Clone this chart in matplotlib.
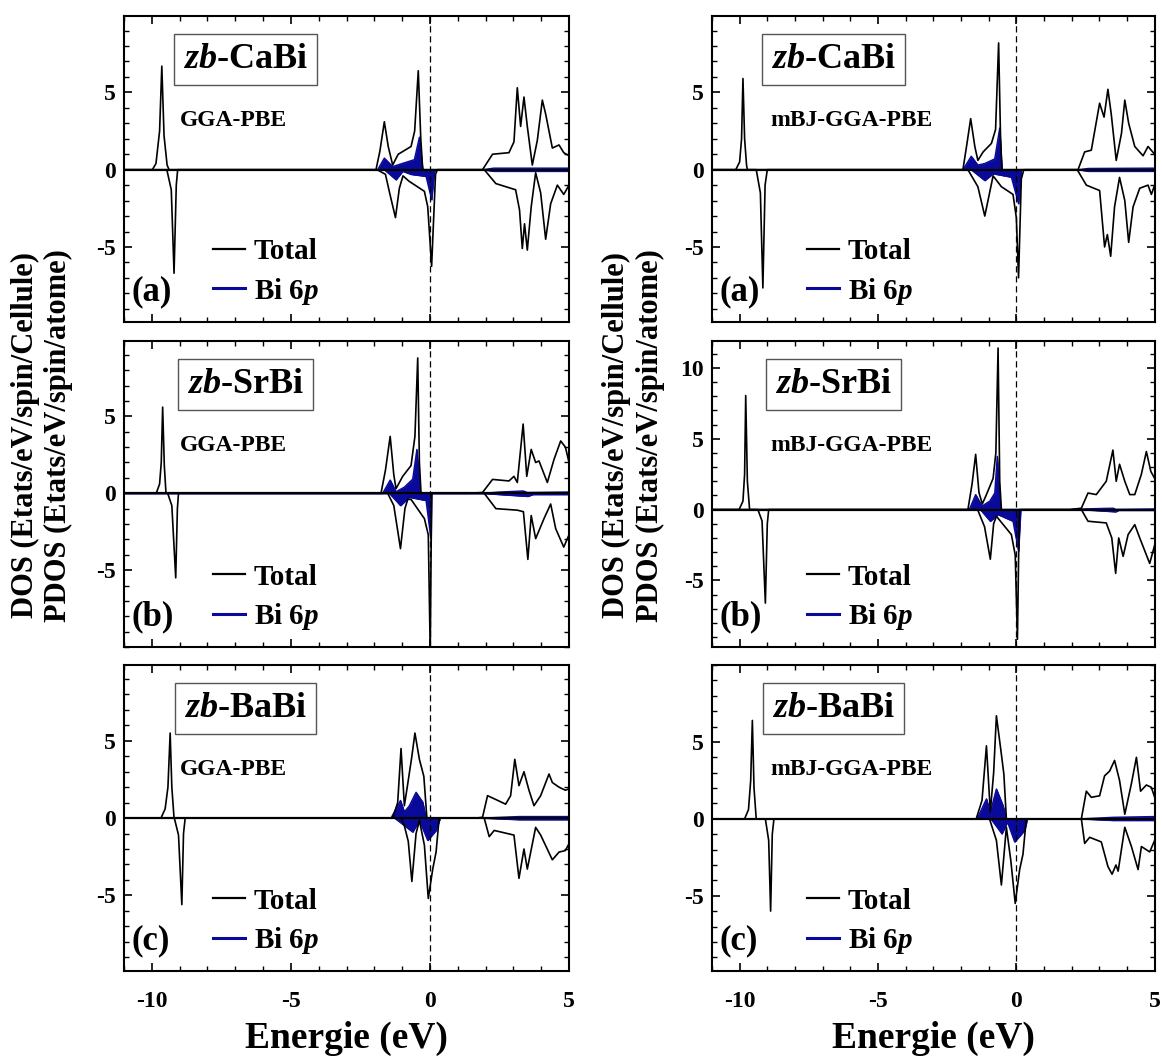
import numpy as np
import matplotlib
matplotlib.use('Agg')
import matplotlib.pyplot as plt
from matplotlib.lines import Line2D
from matplotlib.ticker import MultipleLocator

plt.rcParams['font.family'] = 'Liberation Serif'
plt.rcParams['font.weight'] = 'bold'
plt.rcParams['axes.labelweight'] = 'bold'
plt.rcParams['mathtext.fontset'] = 'custom'
plt.rcParams['mathtext.rm'] = 'Liberation Serif:bold'
plt.rcParams['mathtext.it'] = 'Liberation Serif:italic:bold'
plt.rcParams['axes.unicode_minus'] = False
plt.rcParams['axes.linewidth'] = 1.5

# --- données (E en eV, DOS) ---
COMPOUNDS = ['CaBi', 'SrBi', 'BaBi']
METHODS = ['GGA-PBE', 'mBJ-GGA-PBE']
TAGS = ['(a)', '(b)', '(c)']
XTICKS = [-10, -5, 0, 5]

# zb-CaBi GGA-PBE
CA_GGA_TOT_UP = [(-11, 0), (-9.98, 0), (-9.85, 0.4), (-9.72, 2.5), (-9.64, 6.7), (-9.56, 2.2), (-9.45, 0.3), (-9.38, 0),
                 (-1.94, 0), (-1.8, 1.2), (-1.64, 3.1), (-1.5, 1.5), (-1.34, 0.3), (-1.2, 0.8), (-1.14, 1.0), (-0.68, 1.5),
                 (-0.55, 2.5), (-0.42, 6.4), (-0.33, 2.0), (-0.26, 0),
                 (1.89, 0), (2.25, 1.0), (2.84, 1.1), (3.02, 1.8), (3.14, 5.3), (3.26, 2.8), (3.38, 4.7), (3.5, 2.8),
                 (3.68, 0.3), (3.86, 1.9), (4.04, 4.5), (4.16, 3.6), (4.4, 1.4), (4.64, 1.6), (4.81, 1.1), (5.0, 0.9)]
CA_GGA_TOT_DN = [(-11, 0), (-9.46, 0), (-9.3, -1.3), (-9.2, -6.7), (-9.12, -1.0), (-9.07, 0),
                 (-1.9, 0), (-1.6, -0.3), (-1.45, -1.5), (-1.24, -3.1), (-1.1, -1.2), (-0.97, -0.4), (-0.75, -0.75),
                 (-0.2, -1.4), (-0.08, -2.4), (0.06, -6.25), (0.2, -0.3), (0.27, 0),
                 (1.95, 0), (2.37, -0.9), (3.08, -1.3), (3.22, -2.6), (3.32, -5.1), (3.4, -3.5), (3.5, -5.2), (3.64, -2.4),
                 (3.8, -0.2), (3.98, -1.5), (4.16, -4.5), (4.34, -2.2), (4.58, -1.0), (4.81, -1.6), (5.0, -1.0)]
CA_GGA_BI_UP = [(-11, 0), (-1.88, 0), (-1.64, 0.75), (-1.34, 0.2), (-1.0, 0.4), (-0.56, 0.65), (-0.38, 2.1), (-0.26, 0),
                (1.9, 0), (2.3, 0.1), (5, 0.1)]
CA_GGA_BI_DN = [(-11, 0), (-1.64, 0), (-1.22, -0.65), (-0.98, -0.1), (-0.68, -0.3), (-0.14, -0.43), (0.06, -1.94),
                (0.16, -0.1), (0.22, 0), (1.9, 0), (2.3, -0.1), (5, -0.1)]

# zb-CaBi mBJ-GGA-PBE
CA_MBJ_TOT_UP = [(-11, 0), (-10.14, 0), (-10.0, 0.5), (-9.93, 2.0), (-9.88, 5.9), (-9.82, 2.0), (-9.75, 0.3), (-9.72, 0),
                 (-1.93, 0), (-1.8, 1.5), (-1.65, 3.3), (-1.5, 1.5), (-1.39, 0.6), (-1.2, 1.15), (-0.9, 1.7), (-0.75, 2.6),
                 (-0.64, 8.2), (-0.57, 2.0), (-0.52, 0),
                 (2.23, 0), (2.47, 1.15), (2.71, 1.26), (3.01, 4.3), (3.17, 3.4), (3.31, 5.2), (3.43, 3.6), (3.61, 0.6),
                 (3.8, 2.35), (3.92, 4.5), (4.06, 3.0), (4.28, 1.5), (4.58, 0.9), (4.76, 1.5), (5.0, 1.0)]
CA_MBJ_TOT_DN = [(-11, 0), (-9.4, 0), (-9.25, -1.5), (-9.16, -7.65), (-9.08, -1.0), (-9.0, 0),
                 (-1.75, 0), (-1.39, -1.1), (-1.14, -3.0), (-0.84, -0.4), (-0.54, -1.1), (-0.12, -1.6), (0.0, -3.1),
                 (0.08, -7.0), (0.18, -0.6), (0.27, 0),
                 (2.2, 0), (2.53, -1.0), (3.01, -1.35), (3.19, -5.0), (3.29, -4.2), (3.41, -5.6), (3.55, -2.4), (3.73, -0.5),
                 (3.92, -2.0), (4.06, -4.7), (4.22, -2.4), (4.46, -1.2), (4.76, -1.0), (4.88, -1.6), (5.0, -1.0)]
CA_MBJ_BI_UP = [(-11, 0), (-1.93, 0), (-1.63, 0.87), (-1.39, 0.3), (-1.14, 0.4), (-0.78, 0.7), (-0.6, 2.7), (-0.52, 0),
                (2.25, 0), (2.6, 0.08), (5, 0.1)]
CA_MBJ_BI_DN = [(-11, 0), (-1.63, 0), (-1.14, -0.7), (-0.84, -0.26), (-0.18, -0.48), (0.08, -2.2), (0.18, 0),
                (2.25, 0), (2.6, -0.1), (5, -0.1)]

# zb-SrBi GGA-PBE
SR_GGA_TOT_UP = [(-11, 0), (-9.84, 0), (-9.72, 0.6), (-9.66, 2.0), (-9.61, 5.6), (-9.55, 1.8), (-9.49, 0),
                 (-1.76, 0), (-1.6, 1.5), (-1.43, 3.7), (-1.3, 1.2), (-1.22, 0.3), (-0.98, 1.1), (-0.68, 1.8), (-0.54, 3.7),
                 (-0.44, 8.8), (-0.38, 2.0), (-0.32, 0),
                 (1.41, 0), (1.89, 0.05), (2.25, 0.9), (2.84, 0.8), (3.02, 1.1), (3.14, 0.7), (3.35, 4.5), (3.48, 1.1),
                 (3.64, 2.85), (3.8, 2.0), (3.92, 2.1), (4.22, 0.7), (4.46, 2.2), (4.7, 3.4), (4.87, 3.0), (5.0, 2.0)]
SR_GGA_TOT_DN = [(-11, 0), (-9.43, 0), (-9.28, -0.8), (-9.14, -5.5), (-9.08, -1.0), (-9.04, 0),
                 (-1.52, 0), (-1.3, -0.8), (-1.06, -3.6), (-0.9, -1.0), (-0.8, -0.4), (-0.68, -0.4), (-0.2, -1.65),
                 (-0.06, -2.7), (0.01, -10.3), (0.06, 0),
                 (1.95, 0), (2.37, -1.0), (3.14, -1.1), (3.36, -1.2), (3.52, -4.3), (3.64, -1.45), (3.8, -2.95),
                 (4.1, -1.65), (4.34, -0.7), (4.52, -2.3), (4.81, -3.5), (5.0, -2.7)]
SR_GGA_BI_UP = [(-11, 0), (-1.7, 0), (-1.43, 0.86), (-1.22, 0.1), (-0.92, 0.4), (-0.62, 0.92), (-0.47, 2.85), (-0.35, 0),
                (1.9, 0), (2.5, 0.08), (3.35, 0.15), (3.5, 0.05), (5, 0.08)]
SR_GGA_BI_DN = [(-11, 0), (-1.46, 0), (-1.06, -0.8), (-0.74, -0.26), (-0.14, -0.47), (0.04, -3.05), (0.06, 0),
                (1.9, 0), (2.5, -0.08), (3.52, -0.2), (3.7, -0.08), (5, -0.08)]

# zb-SrBi mBJ-GGA-PBE
SR_MBJ_TOT_UP = [(-11, 0), (-10.02, 0), (-9.88, 0.6), (-9.82, 2.5), (-9.78, 8.05), (-9.72, 2.0), (-9.64, 0),
                 (-1.75, 0), (-1.6, 1.8), (-1.47, 3.9), (-1.35, 1.2), (-1.23, 0.4), (-1.08, 1.06), (-0.84, 2.2),
                 (-0.74, 4.0), (-0.66, 11.4), (-0.6, 2.0), (-0.54, 0),
                 (1.93, 0), (2.35, 0.1), (2.59, 1.17), (2.89, 1.06), (3.25, 2.0), (3.49, 4.2), (3.61, 2.0), (3.73, 3.2),
                 (3.92, 2.0), (4.1, 1.06), (4.28, 1.06), (4.52, 2.5), (4.7, 4.1), (4.86, 2.7), (5.0, 2.2)]
SR_MBJ_TOT_DN = [(-11, 0), (-9.34, 0), (-9.19, -0.8), (-9.07, -6.6), (-9.0, -1.0), (-8.95, 0),
                 (-1.4, 0), (-1.15, -1.2), (-0.94, -3.5), (-0.82, -1.0), (-0.72, -0.47), (-0.18, -1.76), (-0.04, -3.2),
                 (0.04, -9.15), (0.1, -1.0), (0.12, 0),
                 (2.35, 0), (2.59, -0.82), (3.25, -0.94), (3.45, -2.0), (3.59, -4.5), (3.7, -2.0), (3.86, -3.3),
                 (4.04, -1.76), (4.28, -1.06), (4.46, -2.0), (4.82, -3.8), (5.0, -2.5)]
SR_MBJ_BI_UP = [(-11, 0), (-1.7, 0), (-1.47, 1.06), (-1.24, 0.25), (-0.96, 0.6), (-0.78, 1.17), (-0.69, 3.76), (-0.56, 0),
                (1.95, 0), (2.4, 0.05), (3.5, 0.1), (3.6, 0.02), (5, 0.05)]
SR_MBJ_BI_DN = [(-11, 0), (-1.3, 0), (-0.94, -0.82), (-0.66, -0.35), (-0.12, -0.82), (0.08, -2.93), (0.16, 0),
                (2.35, 0), (3.59, -0.15), (3.7, -0.05), (5, -0.05)]

# zb-BaBi GGA-PBE
BA_GGA_TOT_UP = [(-11, 0), (-9.67, 0), (-9.52, 0.6), (-9.42, 2.0), (-9.34, 5.5), (-9.28, 2.0), (-9.2, 0),
                 (-1.34, 0), (-1.16, 1.0), (-1.04, 4.5), (-0.92, 0.8), (-0.8, 2.2), (-0.65, 4.0), (-0.54, 5.5),
                 (-0.38, 3.8), (-0.22, 2.7), (-0.11, 0),
                 (1.65, 0), (1.89, 0.05), (2.07, 1.45), (2.31, 1.25), (2.72, 0.9), (2.9, 1.45), (3.05, 3.8), (3.2, 2.1),
                 (3.38, 3.0), (3.56, 1.8), (3.74, 0.8), (3.98, 1.45), (4.28, 2.85), (4.4, 2.3), (4.64, 2.0), (4.87, 1.8),
                 (5.0, 1.9)]
BA_GGA_TOT_DN = [(-11, 0), (-9.19, 0), (-9.04, -1.1), (-8.92, -5.6), (-8.86, -1.0), (-8.8, 0),
                 (-1.04, 0), (-0.92, -0.5), (-0.78, -1.5), (-0.65, -4.1), (-0.5, -1.0), (-0.38, -0.15), (-0.2, -1.75),
                 (-0.06, -5.2), (0.1, -3.3), (0.22, -2.2), (0.33, 0),
                 (1.95, 0), (2.13, -1.2), (2.31, -0.8), (3.02, -1.1), (3.2, -3.9), (3.38, -2.0), (3.5, -3.3), (3.8, -0.6),
                 (3.98, -1.1), (4.4, -2.7), (4.64, -2.2), (4.87, -2.1), (5.0, -1.65)]
BA_GGA_BI_UP = [(-11, 0), (-1.4, 0), (-1.06, 1.14), (-0.92, 0.4), (-0.74, 0.8), (-0.5, 1.67), (-0.26, 1.03), (-0.14, 0),
                (1.9, 0), (3.2, 0.1), (5, 0.1)]
BA_GGA_BI_DN = [(-11, 0), (-1.27, 0), (-0.62, -0.9), (-0.38, -0.15), (-0.08, -1.44), (0.22, -0.8), (0.37, 0),
                (1.9, 0), (3.2, -0.1), (5, -0.1)]

# zb-BaBi mBJ-GGA-PBE
BA_MBJ_TOT_UP = [(-11, 0), (-9.82, 0), (-9.68, 0.6), (-9.6, 2.5), (-9.54, 6.4), (-9.48, 2.0), (-9.4, 0),
                 (-1.45, 0), (-1.24, 1.2), (-1.08, 4.75), (-0.94, 0.45), (-0.82, 3.0), (-0.72, 6.7), (-0.54, 4.2),
                 (-0.45, 2.9), (-0.36, 0),
                 (2.35, 0), (2.53, 1.8), (2.71, 1.4), (3.01, 1.5), (3.19, 2.8), (3.37, 3.1), (3.55, 3.8), (3.73, 2.5),
                 (3.92, 0.3), (4.16, 2.3), (4.34, 4.0), (4.49, 1.8), (4.7, 2.2), (4.88, 2.05), (5.0, 1.4)]
BA_MBJ_TOT_DN = [(-11, 0), (-9.07, 0), (-8.95, -1.4), (-8.88, -6.0), (-8.82, -1.0), (-8.76, 0),
                 (-0.97, 0), (-0.72, -1.4), (-0.54, -4.3), (-0.36, -0.55), (-0.2, -2.7), (-0.04, -5.5), (0.12, -3.3),
                 (0.24, -2.3), (0.36, 0),
                 (2.35, 0), (2.47, -1.6), (2.65, -1.2), (3.07, -1.5), (3.31, -3.1), (3.46, -3.6), (3.6, -3.0),
                 (3.68, -3.4), (3.92, -0.55), (4.16, -1.8), (4.4, -3.3), (4.52, -1.8), (4.82, -2.15), (5.0, -1.4)]
BA_MBJ_BI_UP = [(-11, 0), (-1.42, 0), (-1.08, 1.3), (-0.94, 0.43), (-0.72, 1.94), (-0.48, 0.86), (-0.36, 0),
                (2.35, 0), (3.5, 0.1), (5, 0.15)]
BA_MBJ_BI_DN = [(-11, 0), (-0.92, 0), (-0.52, -0.97), (-0.32, -0.2), (-0.06, -1.5), (0.3, -0.75), (0.4, 0),
                (2.35, 0), (3.5, -0.1), (5, -0.1)]

PANELS = [
    [(CA_GGA_TOT_UP, CA_GGA_TOT_DN, CA_GGA_BI_UP, CA_GGA_BI_DN),
     (CA_MBJ_TOT_UP, CA_MBJ_TOT_DN, CA_MBJ_BI_UP, CA_MBJ_BI_DN)],
    [(SR_GGA_TOT_UP, SR_GGA_TOT_DN, SR_GGA_BI_UP, SR_GGA_BI_DN),
     (SR_MBJ_TOT_UP, SR_MBJ_TOT_DN, SR_MBJ_BI_UP, SR_MBJ_BI_DN)],
    [(BA_GGA_TOT_UP, BA_GGA_TOT_DN, BA_GGA_BI_UP, BA_GGA_BI_DN),
     (BA_MBJ_TOT_UP, BA_MBJ_TOT_DN, BA_MBJ_BI_UP, BA_MBJ_BI_DN)],
]
YLIMS = [[(-9.85, 9.95), (-9.85, 9.95)],
         [(-10.0, 9.9), (-9.7, 11.9)],
         [(-9.9, 9.9), (-9.9, 10.0)]]
YTICKS = [[[-5, 0, 5], [-5, 0, 5]],
          [[-5, 0, 5], [-5, 0, 5, 10]],
          [[-5, 0, 5], [-5, 0, 5]]]

BLUE = '#0a0a9a'

fig = plt.figure(figsize=(11.62, 10.59), dpi=100)

col_x = [0.1067, 0.6127]
col_w = [0.383, 0.381]
row_y = [0.696, 0.389, 0.083]
row_h = 0.289

for r in range(3):
    for c in range(2):
        ax = fig.add_axes([col_x[c], row_y[r], col_w[c], row_h])
        tot_up, tot_dn, bi_up, bi_dn = [np.array(d) for d in PANELS[r][c]]

        for bi in (bi_up, bi_dn):
            ax.fill_between(bi[:, 0], 0, bi[:, 1], color=BLUE, lw=0.6)
            ax.plot(bi[:, 0], bi[:, 1], color=BLUE, lw=1.0)
        for tot in (tot_up, tot_dn):
            ax.plot(tot[:, 0], tot[:, 1], color='black', lw=1.2)

        ax.axhline(0, color='black', lw=1.6)
        ax.axvline(0, color='black', lw=0.9, ls=(0, (5, 3)))

        ax.set_xlim(-11, 5)
        ax.set_ylim(*YLIMS[r][c])
        ax.set_yticks(YTICKS[r][c])
        ax.xaxis.set_major_locator(MultipleLocator(5))
        ax.xaxis.set_minor_locator(MultipleLocator(1))
        ax.yaxis.set_minor_locator(MultipleLocator(1))
        ax.tick_params(which='both', direction='in', top=True, right=True, labelsize=17)
        ax.tick_params(which='major', length=6, width=1.2)
        ax.tick_params(which='minor', length=3.5, width=1.0)
        ax.tick_params(axis='y', which='major', pad=6)
        ax.tick_params(axis='x', which='major', pad=14)
        if r < 2:
            ax.tick_params(labelbottom=False)
        else:
            ax.set_xticks(XTICKS)
            ax.set_xlabel('Energie (eV)', fontsize=27, labelpad=7)

        ax.text(0.274, 0.858, r'$\mathit{zb}$-' + COMPOUNDS[r], transform=ax.transAxes,
                ha='center', va='center', fontsize=26,
                bbox=dict(boxstyle='square,pad=0.25', fc='white', ec='#555555', lw=1.0))
        ax.text(0.125 if c == 0 else 0.131, 0.658, METHODS[c], transform=ax.transAxes,
                ha='left', va='center', fontsize=17)
        ax.text(0.018, 0.1, TAGS[r], transform=ax.transAxes, ha='left', va='center', fontsize=25)

        handles = [Line2D([], [], color='black', lw=1.6), Line2D([], [], color=BLUE, lw=2.2)]
        ax.legend(handles, ['Total', r'Bi 6$\mathit{p}$'], loc='lower left',
                  bbox_to_anchor=(0.2 if c == 0 else 0.215, 0.05), frameon=False, fontsize=21,
                  handlelength=1.1, handletextpad=0.3, labelspacing=0.35, borderpad=0, borderaxespad=0)

for xc in (0.036, 0.545):
    fig.text(xc, 0.589, 'DOS (Etats/eV/spin/Cellule)\nPDOS (Etats/eV/spin/atome)',
             rotation=90, ha='center', va='center', fontsize=22, multialignment='center',
             linespacing=1.2)

fig.savefig('out.png', dpi=100)
